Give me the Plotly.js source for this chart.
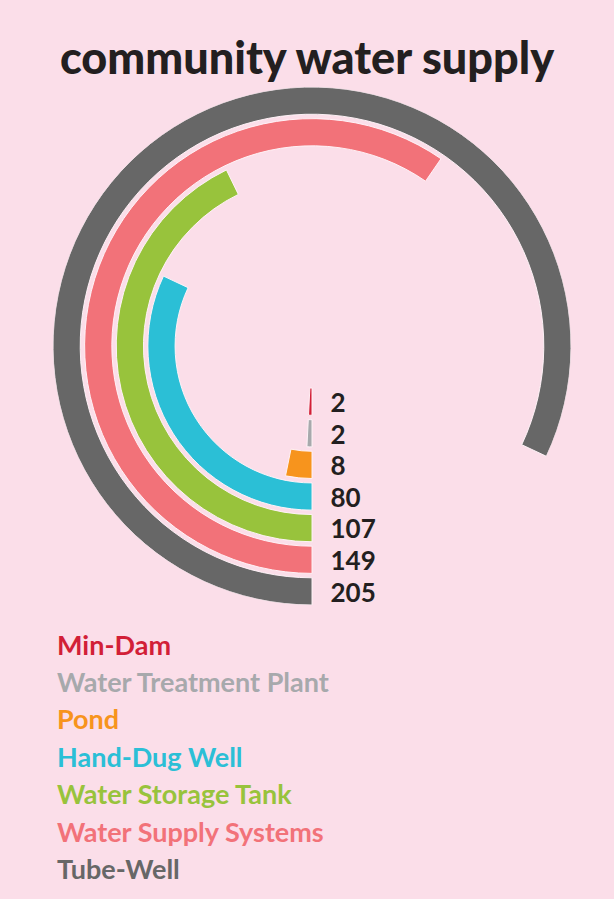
<!DOCTYPE html>
<html>
<head>
<meta charset="utf-8">
<script src="https://cdn.plot.ly/plotly-3.0.1.min.js"></script>
<style>
  html, body { margin: 0; padding: 0; background: #fbdee9; }
  #chart { width: 614px; height: 899px; }
</style>
</head>
<body>
<div id="chart"></div>
<script>
// ---- data (inner ring -> outer ring) ----
const categories = ["Min-Dam", "Water Treatment Plant", "Pond", "Hand-Dug Well",
                    "Water Storage Tank", "Water Supply Systems", "Tube-Well"];
const values = [2, 2, 8, 80, 107, 149, 205];
const colors = ["#d21f37", "#a7a9ac", "#f7941d", "#2bbfd6", "#98c33c", "#f27279", "#676767"];
const fullCircle = 250;   // value that would close a full ring

// ---- geometry ----
const W = 614, H = 899;
const cx = 312, cy = 346, Rpx = 259;
const innerOffset = 1.33, thick = 0.86;
const rMax = innerOffset + (categories.length - 1) + thick;

const traces = [];
categories.forEach((c, i) => {
  const deg = values[i] / fullCircle * 360;
  traces.push({
    type: "barpolar",
    name: c,
    r: [thick],
    base: [innerOffset + i],
    theta: [deg / 2],
    width: [deg],
    marker: { color: colors[i], line: { color: "rgba(255,244,249,0.95)", width: 1 } },
    hoverinfo: "skip",
    showlegend: false
  });
});

// value labels at the start of each ring
traces.push({
  type: "scatterpolar",
  mode: "markers+text",
  r: categories.map((c, i) => innerOffset + i + thick / 2 + 0.12),
  theta: categories.map(() => 0),
  text: values.map(String),
  textposition: "middle right",
  textfont: { family: "Lato", size: 26, color: "#231f20", weight: "bold" },
  marker: { size: 28, color: "rgba(0,0,0,0)" },
  hoverinfo: "skip",
  showlegend: false,
  cliponaxis: false
});

// legend as coloured text
const annotations = categories.map((c, i) => ({
  xref: "paper", yref: "paper",
  x: 55 / W, y: 1 - (644 + i * 37.4) / H,
  xanchor: "left", yanchor: "middle",
  text: c, showarrow: false,
  font: { family: "Lato", size: 27, color: colors[i], weight: "bold" }
}));

const layout = {
  width: W, height: H,
  margin: { l: 0, r: 0, t: 0, b: 0 },
  paper_bgcolor: "#fbdee9",
  plot_bgcolor: "#fbdee9",
  title: {
    text: "community water supply",
    x: 0.5, xanchor: "center",
    y: 1 - 58 / H, yanchor: "middle",
    font: { family: "Lato", size: 45, color: "#231f20", weight: 900 }
  },
  polar: {
    domain: { x: [(cx - Rpx) / W, (cx + Rpx) / W], y: [1 - (cy + Rpx) / H, 1 - (cy - Rpx) / H] },
    bgcolor: "rgba(0,0,0,0)",
    barmode: "overlay",
    radialaxis: { visible: false, range: [0, rMax], showgrid: false },
    angularaxis: { visible: false, rotation: 270, direction: "clockwise", showgrid: false, showline: false, ticks: "" },
    hole: 0
  },
  annotations: annotations,
  showlegend: false
};

Plotly.newPlot("chart", traces, layout, { displayModeBar: false, staticPlot: true });
</script>
</body>
</html>
